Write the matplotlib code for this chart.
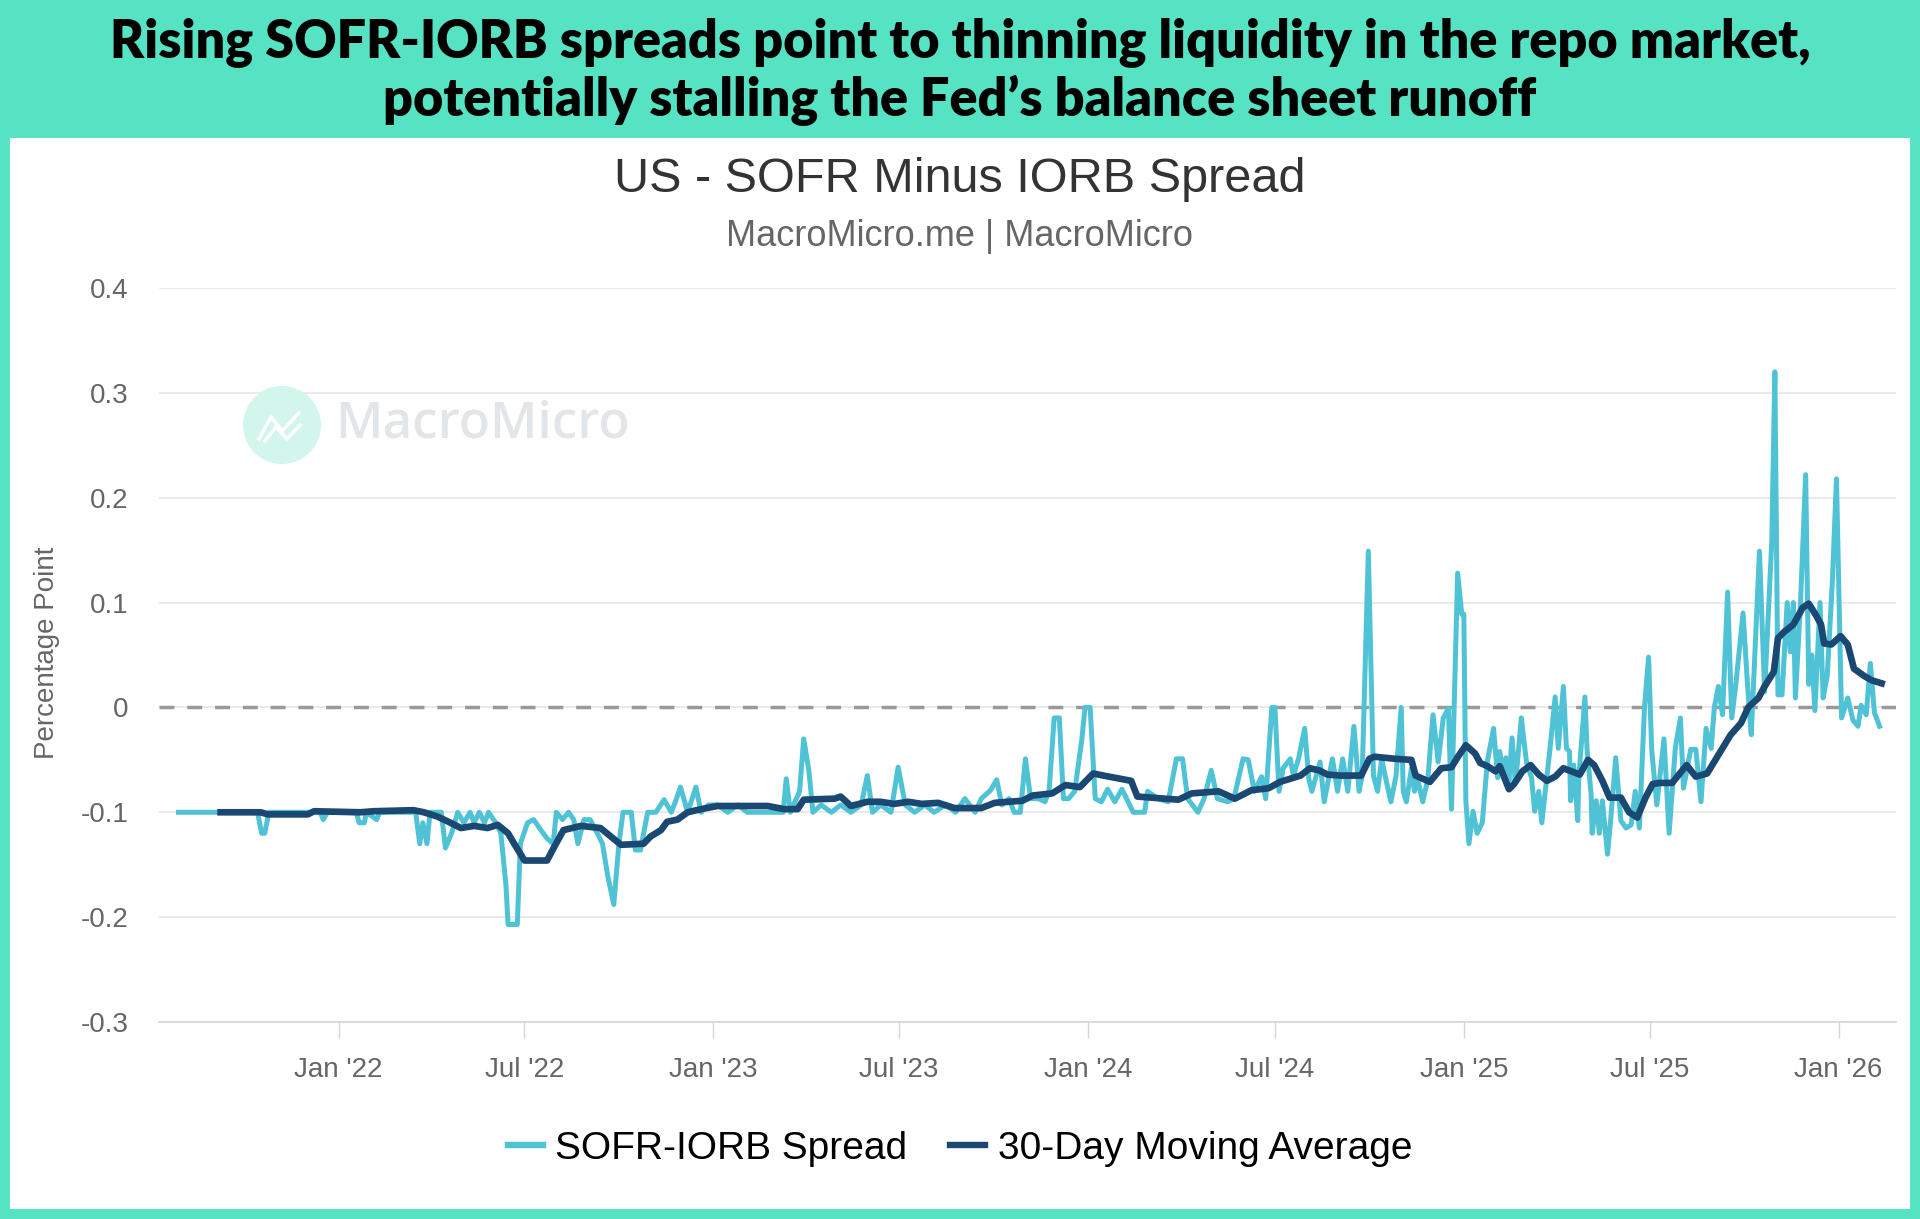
import matplotlib
matplotlib.use("Agg")
import matplotlib.pyplot as plt
import pandas as pd
from matplotlib.patches import Rectangle, Circle
from matplotlib.lines import Line2D

# SOFR minus IORB (percentage points)
spread_points = [
    ("2021-07-29", -0.100), ("2021-10-14", -0.100), ("2021-10-18", -0.120), ("2021-10-21", -0.120),
    ("2021-10-25", -0.100), ("2021-12-14", -0.100), ("2021-12-17", -0.107), ("2021-12-21", -0.100),
    ("2022-01-18", -0.100), ("2022-01-21", -0.110), ("2022-01-26", -0.110), ("2022-01-28", -0.100),
    ("2022-02-07", -0.107), ("2022-02-10", -0.100), ("2022-03-17", -0.100), ("2022-03-21", -0.130),
    ("2022-03-24", -0.110), ("2022-03-28", -0.130), ("2022-03-31", -0.100), ("2022-04-11", -0.100),
    ("2022-04-15", -0.134), ("2022-04-21", -0.120), ("2022-04-27", -0.100), ("2022-05-03", -0.110),
    ("2022-05-09", -0.100), ("2022-05-13", -0.110), ("2022-05-18", -0.100), ("2022-05-23", -0.110),
    ("2022-05-27", -0.100), ("2022-06-03", -0.110), ("2022-06-08", -0.120), ("2022-06-13", -0.170),
    ("2022-06-15", -0.207), ("2022-06-24", -0.207), ("2022-06-27", -0.130), ("2022-07-04", -0.110),
    ("2022-07-10", -0.107), ("2022-07-17", -0.117), ("2022-07-23", -0.125), ("2022-07-29", -0.130),
    ("2022-08-01", -0.100), ("2022-08-07", -0.107), ("2022-08-13", -0.100), ("2022-08-18", -0.107),
    ("2022-08-22", -0.130), ("2022-08-28", -0.107), ("2022-09-03", -0.107), ("2022-09-10", -0.120),
    ("2022-09-15", -0.130), ("2022-09-20", -0.160), ("2022-09-26", -0.188), ("2022-10-01", -0.130),
    ("2022-10-05", -0.100), ("2022-10-13", -0.100), ("2022-10-17", -0.136), ("2022-10-22", -0.136),
    ("2022-10-29", -0.100), ("2022-11-06", -0.100), ("2022-11-14", -0.088), ("2022-11-21", -0.100),
    ("2022-11-25", -0.090), ("2022-11-30", -0.076), ("2022-12-07", -0.100), ("2022-12-15", -0.076),
    ("2022-12-20", -0.100), ("2022-12-27", -0.093), ("2023-01-05", -0.093), ("2023-01-15", -0.100),
    ("2023-01-25", -0.093), ("2023-02-03", -0.100), ("2023-02-23", -0.100), ("2023-03-10", -0.100),
    ("2023-03-13", -0.068), ("2023-03-17", -0.100), ("2023-03-26", -0.080), ("2023-03-30", -0.030),
    ("2023-04-04", -0.060), ("2023-04-08", -0.100), ("2023-04-16", -0.093), ("2023-04-26", -0.100),
    ("2023-05-05", -0.093), ("2023-05-15", -0.100), ("2023-05-25", -0.093), ("2023-05-31", -0.065),
    ("2023-06-05", -0.100), ("2023-06-13", -0.093), ("2023-06-23", -0.100), ("2023-06-30", -0.057),
    ("2023-07-07", -0.093), ("2023-07-16", -0.100), ("2023-07-26", -0.093), ("2023-08-04", -0.100),
    ("2023-08-15", -0.093), ("2023-08-25", -0.100), ("2023-09-03", -0.087), ("2023-09-13", -0.100),
    ("2023-09-19", -0.087), ("2023-09-28", -0.079), ("2023-10-04", -0.069), ("2023-10-09", -0.093),
    ("2023-10-16", -0.087), ("2023-10-21", -0.100), ("2023-10-27", -0.100), ("2023-11-01", -0.049),
    ("2023-11-06", -0.087), ("2023-11-14", -0.087), ("2023-11-20", -0.090), ("2023-11-24", -0.080),
    ("2023-11-29", -0.010), ("2023-12-04", -0.010), ("2023-12-08", -0.087), ("2023-12-13", -0.087),
    ("2023-12-19", -0.080), ("2023-12-26", -0.030), ("2023-12-29", 0.000), ("2024-01-03", 0.000),
    ("2024-01-08", -0.087), ("2024-01-14", -0.090), ("2024-01-20", -0.078), ("2024-01-27", -0.090),
    ("2024-02-03", -0.078), ("2024-02-09", -0.090), ("2024-02-14", -0.100), ("2024-02-25", -0.100),
    ("2024-02-28", -0.080), ("2024-03-09", -0.087), ("2024-03-19", -0.090), ("2024-03-27", -0.049),
    ("2024-04-02", -0.049), ("2024-04-07", -0.087), ("2024-04-17", -0.100), ("2024-04-23", -0.087),
    ("2024-04-30", -0.060), ("2024-05-06", -0.087), ("2024-05-16", -0.090), ("2024-05-22", -0.087),
    ("2024-05-31", -0.049), ("2024-06-05", -0.050), ("2024-06-11", -0.080), ("2024-06-18", -0.066),
    ("2024-06-22", -0.087), ("2024-06-28", 0.000), ("2024-07-01", 0.000), ("2024-07-05", -0.080),
    ("2024-07-09", -0.058), ("2024-07-16", -0.049), ("2024-07-19", -0.065), ("2024-07-24", -0.049),
    ("2024-07-30", -0.020), ("2024-08-03", -0.068), ("2024-08-06", -0.080), ("2024-08-14", -0.052),
    ("2024-08-18", -0.090), ("2024-08-26", -0.049), ("2024-08-31", -0.080), ("2024-09-05", -0.049),
    ("2024-09-10", -0.080), ("2024-09-16", -0.018), ("2024-09-21", -0.080), ("2024-09-24", -0.065),
    ("2024-09-30", 0.149), ("2024-10-05", -0.065), ("2024-10-09", -0.080), ("2024-10-13", -0.049),
    ("2024-10-17", -0.068), ("2024-10-22", -0.090), ("2024-10-27", -0.065), ("2024-11-01", 0.000),
    ("2024-11-03", -0.080), ("2024-11-06", -0.090), ("2024-11-11", -0.058), ("2024-11-14", -0.080),
    ("2024-11-17", -0.068), ("2024-11-22", -0.090), ("2024-11-27", -0.068), ("2024-12-02", -0.007),
    ("2024-12-07", -0.052), ("2024-12-12", -0.010), ("2024-12-17", -0.001), ("2024-12-20", -0.097),
    ("2024-12-26", 0.128), ("2024-12-30", 0.089), ("2025-01-01", 0.089), ("2025-01-03", -0.089),
    ("2025-01-06", -0.130), ("2025-01-10", -0.099), ("2025-01-14", -0.120), ("2025-01-19", -0.110),
    ("2025-01-24", -0.051), ("2025-01-30", -0.020), ("2025-02-03", -0.067), ("2025-02-05", -0.042),
    ("2025-02-09", -0.067), ("2025-02-11", -0.048), ("2025-02-14", -0.070), ("2025-02-17", -0.029),
    ("2025-02-20", -0.070), ("2025-02-22", -0.055), ("2025-02-26", -0.010), ("2025-03-03", -0.052),
    ("2025-03-08", -0.067), ("2025-03-11", -0.099), ("2025-03-15", -0.080), ("2025-03-18", -0.110),
    ("2025-03-21", -0.083), ("2025-03-26", -0.039), ("2025-03-31", 0.010), ("2025-04-03", -0.039),
    ("2025-04-08", 0.020), ("2025-04-11", -0.039), ("2025-04-14", -0.042), ("2025-04-15", -0.089),
    ("2025-04-18", -0.055), ("2025-04-22", -0.108), ("2025-04-23", -0.067), ("2025-04-29", 0.010),
    ("2025-05-01", -0.039), ("2025-05-05", -0.083), ("2025-05-06", -0.120), ("2025-05-10", -0.089),
    ("2025-05-13", -0.120), ("2025-05-16", -0.089), ("2025-05-21", -0.140), ("2025-05-24", -0.108),
    ("2025-05-29", -0.048), ("2025-06-03", -0.108), ("2025-06-08", -0.115), ("2025-06-13", -0.112),
    ("2025-06-17", -0.080), ("2025-06-21", -0.115), ("2025-06-26", 0.000), ("2025-06-30", 0.048),
    ("2025-07-03", -0.040), ("2025-07-08", -0.093), ("2025-07-15", -0.030), ("2025-07-20", -0.120),
    ("2025-07-26", -0.039), ("2025-07-31", -0.010), ("2025-08-03", -0.077), ("2025-08-10", -0.040),
    ("2025-08-15", -0.040), ("2025-08-20", -0.090), ("2025-08-25", -0.020), ("2025-08-30", -0.039),
    ("2025-09-02", 0.000), ("2025-09-06", 0.020), ("2025-09-10", -0.007), ("2025-09-15", 0.110),
    ("2025-09-19", -0.010), ("2025-09-23", 0.022), ("2025-09-30", 0.090), ("2025-10-05", 0.012),
    ("2025-10-08", -0.026), ("2025-10-16", 0.149), ("2025-10-21", 0.015), ("2025-10-28", 0.158),
    ("2025-10-31", 0.320), ("2025-11-03", 0.012), ("2025-11-07", 0.012), ("2025-11-12", 0.100),
    ("2025-11-15", 0.053), ("2025-11-18", 0.100), ("2025-11-20", 0.009), ("2025-11-25", 0.100),
    ("2025-11-30", 0.222), ("2025-12-03", 0.022), ("2025-12-06", 0.050), ("2025-12-09", -0.003),
    ("2025-12-14", 0.100), ("2025-12-17", 0.009), ("2025-12-21", 0.030), ("2025-12-26", 0.120),
    ("2025-12-30", 0.218), ("2026-01-04", -0.010), ("2026-01-10", 0.009), ("2026-01-15", -0.012),
    ("2026-01-20", -0.018), ("2026-01-23", 0.002), ("2026-01-28", -0.007), ("2026-02-01", 0.042),
    ("2026-02-05", -0.005), ("2026-02-10", -0.018),
]

# 30-day moving average
ma_points = [
    ("2021-09-08", -0.100), ("2021-10-17", -0.100), ("2021-10-24", -0.102), ("2021-12-02", -0.102),
    ("2021-12-08", -0.099), ("2022-01-22", -0.100), ("2022-02-04", -0.099), ("2022-03-15", -0.098),
    ("2022-03-25", -0.100), ("2022-04-07", -0.104), ("2022-04-20", -0.110), ("2022-04-30", -0.115),
    ("2022-05-13", -0.113), ("2022-05-26", -0.115), ("2022-06-05", -0.112), ("2022-06-15", -0.120),
    ("2022-06-21", -0.130), ("2022-07-01", -0.146), ("2022-07-23", -0.146), ("2022-07-30", -0.133),
    ("2022-08-08", -0.117), ("2022-08-25", -0.113), ("2022-09-13", -0.115), ("2022-09-23", -0.123),
    ("2022-10-03", -0.131), ("2022-10-25", -0.130), ("2022-11-01", -0.123), ("2022-11-11", -0.117),
    ("2022-11-17", -0.109), ("2022-11-27", -0.107), ("2022-12-07", -0.100), ("2022-12-20", -0.097),
    ("2023-01-05", -0.094), ("2023-01-28", -0.094), ("2023-02-23", -0.094), ("2023-03-11", -0.097),
    ("2023-03-24", -0.097), ("2023-03-30", -0.088), ("2023-04-29", -0.087), ("2023-05-05", -0.085),
    ("2023-05-15", -0.094), ("2023-05-31", -0.090), ("2023-06-13", -0.090), ("2023-06-26", -0.092),
    ("2023-07-10", -0.090), ("2023-07-23", -0.092), ("2023-08-08", -0.091), ("2023-08-24", -0.096),
    ("2023-09-19", -0.096), ("2023-10-02", -0.091), ("2023-10-29", -0.089), ("2023-11-08", -0.084),
    ("2023-11-27", -0.082), ("2023-12-10", -0.074), ("2023-12-24", -0.076), ("2024-01-06", -0.063),
    ("2024-01-16", -0.065), ("2024-02-12", -0.070), ("2024-02-18", -0.085), ("2024-03-29", -0.088),
    ("2024-04-11", -0.082), ("2024-05-07", -0.080), ("2024-05-23", -0.087), ("2024-06-08", -0.079),
    ("2024-06-25", -0.077), ("2024-07-06", -0.071), ("2024-07-16", -0.068), ("2024-07-26", -0.065),
    ("2024-08-04", -0.058), ("2024-08-13", -0.060), ("2024-08-21", -0.064), ("2024-09-03", -0.065),
    ("2024-09-23", -0.065), ("2024-10-01", -0.049), ("2024-10-06", -0.047), ("2024-10-26", -0.049),
    ("2024-11-11", -0.050), ("2024-11-15", -0.065), ("2024-11-29", -0.071), ("2024-12-10", -0.058),
    ("2024-12-20", -0.057), ("2024-12-27", -0.046), ("2025-01-03", -0.036), ("2025-01-12", -0.044),
    ("2025-01-17", -0.053), ("2025-01-24", -0.056), ("2025-02-01", -0.061), ("2025-02-05", -0.056),
    ("2025-02-14", -0.078), ("2025-02-19", -0.073), ("2025-02-27", -0.061), ("2025-03-07", -0.055),
    ("2025-03-15", -0.064), ("2025-03-23", -0.070), ("2025-03-31", -0.066), ("2025-04-08", -0.058),
    ("2025-04-16", -0.061), ("2025-04-24", -0.064), ("2025-05-02", -0.050), ("2025-05-08", -0.055),
    ("2025-05-16", -0.070), ("2025-05-23", -0.086), ("2025-06-03", -0.086), ("2025-06-11", -0.100),
    ("2025-06-19", -0.105), ("2025-06-27", -0.086), ("2025-07-04", -0.073), ("2025-07-11", -0.072),
    ("2025-07-23", -0.072), ("2025-08-06", -0.055), ("2025-08-15", -0.066), ("2025-08-26", -0.063),
    ("2025-09-05", -0.047), ("2025-09-18", -0.026), ("2025-09-28", -0.015), ("2025-10-05", 0.000),
    ("2025-10-15", 0.009), ("2025-10-21", 0.020), ("2025-10-30", 0.034), ("2025-11-03", 0.066),
    ("2025-11-09", 0.072), ("2025-11-18", 0.079), ("2025-11-27", 0.095), ("2025-12-03", 0.099),
    ("2025-12-10", 0.088), ("2025-12-15", 0.079), ("2025-12-18", 0.061), ("2025-12-25", 0.060),
    ("2026-01-03", 0.068), ("2026-01-10", 0.060), ("2026-01-16", 0.037), ("2026-01-26", 0.030),
    ("2026-02-02", 0.026), ("2026-02-12", 0.023),
]

x_ticks = ["2022-01-01", "2022-07-01", "2023-01-01", "2023-07-01", "2024-01-01",
           "2024-07-01", "2025-01-01", "2025-07-01", "2026-01-01"]
x_tick_labels = ["Jan '22", "Jul '22", "Jan '23", "Jul '23", "Jan '24",
                 "Jul '24", "Jan '25", "Jul '25", "Jan '26"]
y_ticks = [-0.3, -0.2, -0.1, 0.0, 0.1, 0.2, 0.3, 0.4]
y_tick_labels = ["-0.3", "-0.2", "-0.1", "0", "0.1", "0.2", "0.3", "0.4"]

TEAL = "#55e3c3"
SPREAD_COLOR = "#4fc3d5"
MA_COLOR = "#1a4872"
GREY_TEXT = "#666666"

spread_x = pd.to_datetime([d for d, v in spread_points])
spread_y = [v for d, v in spread_points]
ma_x = pd.to_datetime([d for d, v in ma_points])
ma_y = [v for d, v in ma_points]

fig = plt.figure(figsize=(19.2, 12.19), dpi=100, facecolor=TEAL)

# white card under the teal heading band
fig.add_artist(Rectangle((10 / 1920, 10 / 1219), 1900 / 1920, 1071 / 1219,
                         transform=fig.transFigure, facecolor="white", edgecolor="none", zorder=0))

fig.text(0.5, 1 - 43 / 1219, "Rising SOFR-IORB spreads point to thinning liquidity in the repo market,",
         ha="center", va="center", fontsize=37.5, fontfamily="Lato", fontweight="heavy", color="black")
fig.text(0.5, 1 - 100 / 1219, "potentially stalling the Fed\u2019s balance sheet runoff",
         ha="center", va="center", fontsize=37.5, fontfamily="Lato", fontweight="heavy", color="black")

fig.text(0.5, 1 - 180 / 1219, "US - SOFR Minus IORB Spread", ha="center", va="center",
         fontsize=35, fontfamily="Liberation Sans", color="#333333")
fig.text(0.5, 1 - 237 / 1219, "MacroMicro.me | MacroMicro", ha="center", va="center",
         fontsize=26, fontfamily="Liberation Sans", color=GREY_TEXT)

ax = fig.add_axes([159 / 1920, 1 - 1022 / 1219, 1737 / 1920, 734 / 1219])
ax.set_facecolor("none")

# watermark
fig.add_artist(Circle((2.82, 7.94), 0.39, transform=fig.dpi_scale_trans,
                      facecolor="#d3f6ec", edgecolor="none", zorder=1))
fig.add_artist(Line2D([2.59, 2.71, 2.82, 2.99], [7.80, 8.02, 7.88, 8.06], transform=fig.dpi_scale_trans,
                      color="white", lw=2.5, zorder=1))
fig.add_artist(Line2D([2.65, 2.76, 2.87, 3.00], [7.78, 7.92, 7.80, 7.94], transform=fig.dpi_scale_trans,
                      color="white", lw=2.5, zorder=1))
fig.text(335 / 1920, 1 - 425 / 1219, "MacroMicro", ha="left", va="center", fontsize=37,
         fontfamily="Open Sans", fontweight="semibold", color="#e3e6e9", zorder=1)

ax.plot(spread_x, spread_y, color=SPREAD_COLOR, lw=3.6, solid_joinstyle="round",
        label="SOFR-IORB Spread", zorder=3)
ax.plot(ma_x, ma_y, color=MA_COLOR, lw=4.8, solid_joinstyle="round",
        label="30-Day Moving Average", zorder=4)
ax.axhline(0, color="#999999", lw=2.5, dashes=(4.3, 3.7), zorder=2)

ax.set_xlim(pd.Timestamp("2021-07-10"), pd.Timestamp("2026-02-26"))
ax.set_ylim(-0.3, 0.4)
ax.set_yticks(y_ticks)
ax.set_yticklabels(y_tick_labels)
ax.set_xticks(pd.to_datetime(x_ticks))
ax.set_xticklabels(x_tick_labels)

ax.grid(axis="y", color="#e6e6e6", lw=1.2)
ax.set_axisbelow(True)
for side in ["top", "right", "left"]:
    ax.spines[side].set_visible(False)
ax.spines["bottom"].set_color("#d6d6d6")
ax.spines["bottom"].set_linewidth(1.2)
ax.tick_params(axis="y", length=0, pad=22, labelsize=20, labelcolor=GREY_TEXT)
ax.tick_params(axis="x", length=11.5, width=1, color="#d6d6d6", pad=14, labelsize=20,
               labelcolor=GREY_TEXT)
for lab in ax.get_xticklabels() + ax.get_yticklabels():
    lab.set_fontfamily("Liberation Sans")

fig.text(47 / 1920, 1 - 653 / 1219, "Percentage Point", rotation=90, ha="center", va="center",
         fontsize=20, fontfamily="Liberation Sans", color=GREY_TEXT)

leg = fig.legend(loc="center", bbox_to_anchor=(0.5, 1 - 1149 / 1219), ncol=2, frameon=False,
                 handlelength=0.9, handletextpad=0.32, columnspacing=1.1,
                 prop={"family": "Liberation Sans", "size": 28})
for line in leg.get_lines():
    line.set_linewidth(4.6)

fig.savefig("out.png", dpi=100, facecolor=fig.get_facecolor())
